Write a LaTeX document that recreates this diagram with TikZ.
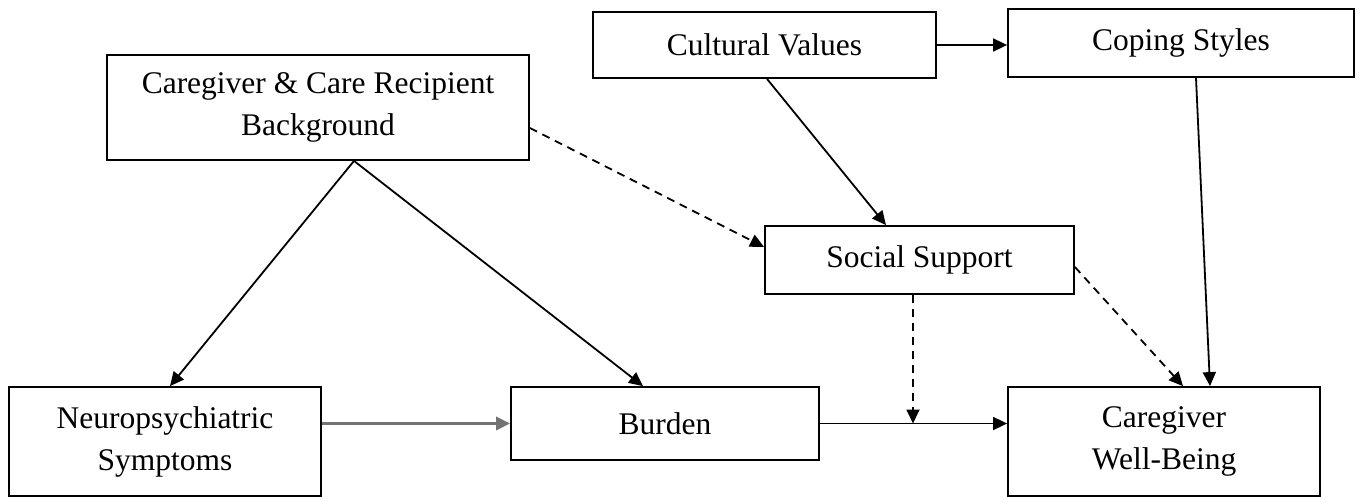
\documentclass[tikz,border=0pt]{standalone}
\usepackage{fontspec}
\setmainfont{Liberation Serif}
\usetikzlibrary{arrows.meta}
\begin{document}
\begin{tikzpicture}[x=1pt,y=1pt,
  box/.style={draw=black,line width=1.8pt,align=center,inner sep=0pt,
    font=\fontsize{31.5}{42}\selectfont},
  arr/.style={line width=1.8pt,-{Triangle[length=14pt,width=13pt]}},
  dsh/.style={arr,dash pattern=on 8pt off 6pt}]
\useasboundingbox (0,0) rectangle (1360,-498);
\node[box,minimum width=422pt,minimum height=105pt] (bg) at (318,-107.5) {Caregiver \& Care Recipient\\Background};
\node[box,minimum width=343pt,minimum height=66pt] (cv) at (764.5,-45) {Cultural Values};
\node[box,minimum width=346pt,minimum height=68pt] (cs) at (1181,-43) {Coping Styles};
\node[box,minimum width=309pt,minimum height=68pt] (ss) at (919.5,-260) {Social Support};
\node[box,minimum width=312pt,minimum height=109pt] (np) at (165,-441.5) {Neuropsychiatric\\Symptoms};
\node[box,minimum width=308pt,minimum height=73pt] (bu) at (665,-423.5) {Burden};
\node[box,minimum width=312pt,minimum height=109pt] (wb) at (1164,-441.5) {Caregiver\\Well-Being};
\coordinate (m) at ([xshift=-6.5pt]ss.south |- bu.east);
\draw[arr] ([xshift=36pt]bg.south) -- ([xshift=5pt]np.north);
\draw[arr] ([xshift=36pt]bg.south) -- ([xshift=-22pt]bu.north);
\draw[dsh] ([yshift=-20.5pt]bg.east) -- ([yshift=13pt]ss.west);
\draw[arr] ([xshift=2.5pt]cv.south) -- ([xshift=-33.5pt]ss.north);
\draw[arr] (cv.east) -- (cv.east -| cs.west);
\draw[arr] ([xshift=15pt]cs.south) -- ([xshift=46pt]wb.north);
\draw[dsh] ([yshift=-7pt]ss.east) -- ([xshift=19pt]wb.north);
\draw[dsh] ([xshift=-6.5pt]ss.south) -- (m);
\draw[arr,draw=black!55,line width=3.5pt] (bu.west -| np.east) -- (bu.west);
\draw[arr] (bu.east) -- (bu.east -| wb.west);
\end{tikzpicture}
\end{document}
